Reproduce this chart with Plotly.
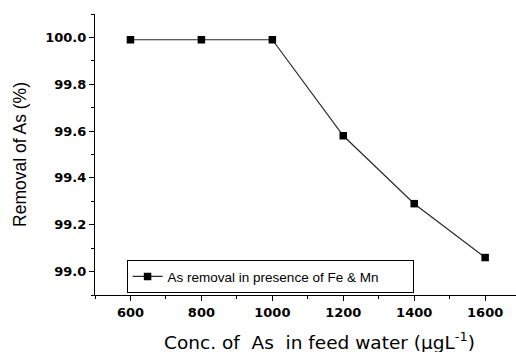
import plotly.graph_objects as go

conc = [600, 800, 1000, 1200, 1400, 1600]
removal = [99.99, 99.99, 99.99, 99.58, 99.29, 99.06]
series_name = "As removal in presence of Fe &amp; Mn"
x_ticks = [600, 800, 1000, 1200, 1400, 1600]
x_tick_text = ["600", "800", "1000", "1200", "1400", "1600"]
y_ticks = [99.0, 99.2, 99.4, 99.6, 99.8, 100.0]
y_tick_text = ["99.0", "99.2", "99.4", "99.6", "99.8", "100.0"]

fig = go.Figure()
fig.add_trace(go.Scatter(
    x=conc, y=removal, mode="lines+markers", name=series_name,
    line=dict(color="#2a2a2a", width=1.2),
    marker=dict(symbol="square", size=7.5, color="black"),
))

tickfont = dict(family="DejaVu Sans", size=13, color="black")

fig.update_layout(
    width=516, height=352,
    margin=dict(l=95, r=0, t=14, b=57),
    paper_bgcolor="white", plot_bgcolor="white",
    showlegend=True,
    legend=dict(
        x=0.075, y=0.124, xanchor="left", yanchor="top",
        orientation="h", entrywidth=240, entrywidthmode="pixels",
        bgcolor="white", bordercolor="black", borderwidth=1,
        font=dict(family="Arial", size=13.5, color="black"),
        tracegroupgap=0, itemwidth=30,
    ),
    xaxis=dict(
        range=[500, 1687], tickmode="array", tickvals=x_ticks,
        ticktext=["<b>%s</b>" % t for t in x_tick_text],
        showline=True, linecolor="black", linewidth=1.2,
        ticks="outside", ticklen=5, tickwidth=1, tickcolor="black",
        tickfont=tickfont, showgrid=False, zeroline=False, mirror=False,
        minor=dict(dtick=100, tick0=500, ticks="outside", ticklen=3, tickcolor="black", showgrid=False),
    ),
    yaxis=dict(
        range=[98.9, 100.1], tickmode="array", tickvals=y_ticks,
        ticktext=["<b>%s</b>" % t for t in y_tick_text],
        showline=True, linecolor="black", linewidth=1.2,
        ticks="outside", ticklen=5, tickwidth=1, tickcolor="black",
        tickfont=tickfont, showgrid=False, zeroline=False, mirror=False,
        minor=dict(dtick=0.1, tick0=98.9, ticks="outside", ticklen=3, tickcolor="black", showgrid=False),
        title=dict(text="Removal of As (%)",
                   font=dict(family="Arial", size=17.5, color="black"), standoff=14),
    ),
    annotations=[dict(
        text="Conc. of&nbsp; As&nbsp; in feed water (μgL<sup>-1</sup>)",
        xref="paper", yref="paper", x=0.534, y=-0.165,
        xanchor="center", yanchor="middle", showarrow=False,
        font=dict(family="DejaVu Sans", size=18.5, color="black"),
    )],
)

fig.write_html("out.html")
